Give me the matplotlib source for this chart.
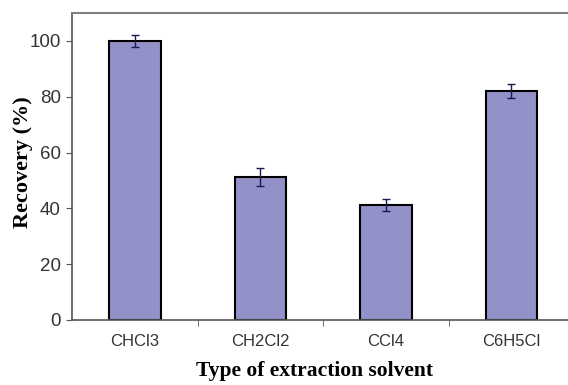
import matplotlib.pyplot as plt
from matplotlib.ticker import FixedLocator

# data
solvents = ['CHCl3', 'CH2Cl2', 'CCl4', 'C6H5Cl']
recovery = [100.0, 51.2, 41.2, 82.0]
errors = [2.2, 3.2, 2.1, 2.5]

fig = plt.figure(figsize=(5.68, 3.85), dpi=100)
ax = fig.add_axes([72 / 568, 1 - 320 / 385, 1 - 72 / 568, (320 - 13) / 385])

x = range(len(solvents))
ax.bar(x, recovery, width=0.41, color='#9291C8', edgecolor='black',
       linewidth=1.5, zorder=2)
ax.errorbar(x, recovery, yerr=errors, fmt='none', ecolor='#1a1a50',
            elinewidth=1.0, capsize=2.7, capthick=1.0, zorder=3)

ax.set_xlim(-0.5, 3.45)
ax.set_ylim(0, 110)
ax.set_yticks([0, 20, 40, 60, 80, 100])
ax.set_xticks(list(x))
ax.set_xticklabels(solvents)
ax.xaxis.set_minor_locator(FixedLocator([0.5, 1.5, 2.5]))

ax.tick_params(axis='x', which='major', length=0, pad=10, labelsize=12,
               labelcolor='#333333')
ax.tick_params(axis='x', which='minor', length=4, direction='out', color='#555555')
ax.tick_params(axis='y', length=4, direction='out', pad=4, labelsize=13.5,
               labelcolor='#333333', color='#555555')
for lbl in ax.get_xticklabels() + ax.get_yticklabels():
    lbl.set_family('Liberation Sans')

ax.spines['right'].set_visible(False)
ax.spines['top'].set_color('#808080')
ax.spines['top'].set_linewidth(1.5)
ax.spines['left'].set_color('#555555')
ax.spines['bottom'].set_color('#555555')
ax.spines['left'].set_linewidth(1.2)
ax.spines['bottom'].set_linewidth(1.2)

ax.set_xlabel('Type of extraction solvent', family='Liberation Serif',
              fontweight='bold', fontsize=15.5)
ax.set_ylabel('Recovery (%)', family='Liberation Serif', fontweight='bold',
              fontsize=16)
ax.xaxis.set_label_coords((315 - 72) / 496, (320 - 361) / 307)
ax.yaxis.set_label_coords((33 - 72) / 496, (320 - 162) / 307)

fig.savefig('out.png', dpi=100)
